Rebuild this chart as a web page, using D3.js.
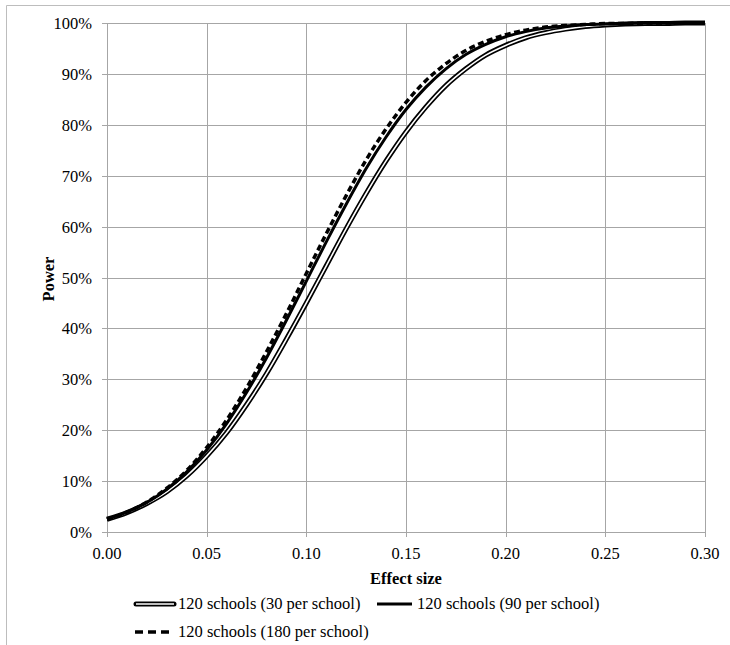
<!DOCTYPE html>
<html><head><meta charset="utf-8">
<script src="https://cdn.jsdelivr.net/npm/d3@7/dist/d3.min.js"></script>
<style>
body{margin:0;background:#fff;}
</style></head>
<body><svg id="c" width="730" height="645"></svg>
<script>
const effectSizes = [0.00,0.01,0.02,0.03,0.04,0.05,0.06,0.07,0.08,0.09,0.10,0.11,0.12,0.13,0.14,0.15,0.16,0.17,0.18,0.19,0.20,0.21,0.22,0.23,0.24,0.25,0.26,0.27,0.28,0.29,0.30];
const power30 = [0.025,0.038,0.056,0.079,0.110,0.149,0.195,0.250,0.311,0.379,0.450,0.523,0.596,0.665,0.729,0.786,0.835,0.877,0.910,0.937,0.956,0.971,0.981,0.988,0.993,0.996,0.998,0.999,0.999,1.000,1.000];
const power90 = [0.025,0.039,0.058,0.084,0.118,0.161,0.213,0.274,0.342,0.416,0.493,0.570,0.644,0.714,0.776,0.830,0.874,0.910,0.938,0.958,0.973,0.983,0.990,0.994,0.997,0.998,0.999,1.000,1.000,1.000,1.000];
const power180 = [0.025,0.039,0.059,0.086,0.121,0.166,0.220,0.283,0.354,0.429,0.508,0.586,0.661,0.731,0.792,0.844,0.887,0.920,0.946,0.964,0.977,0.986,0.992,0.995,0.997,0.999,0.999,1.000,1.000,1.000,1.000];
const seriesNames = ["120 schools (30 per school)","120 schools (90 per school)","120 schools (180 per school)"];
const xTicks = [0,0.05,0.10,0.15,0.20,0.25,0.30];
const yTicks = [0,0.1,0.2,0.3,0.4,0.5,0.6,0.7,0.8,0.9,1.0];

const FONT = "Liberation Serif";
const FS = 16.5;
const svg = d3.select("#c");
// outer frame
svg.append("path").attr("d","M6.5,645 V5.5 H730").attr("fill","none").attr("stroke","#bdbdbd").attr("stroke-width",1);

const x = d3.scaleLinear().domain([0,0.30]).range([107,705]);
const y = d3.scaleLinear().domain([0,1]).range([532,23]);

// grid
const g = svg.append("g");
g.selectAll(".vg").data(xTicks).join("line")
  .attr("x1",d=>Math.round(x(d))+0.5).attr("x2",d=>Math.round(x(d))+0.5)
  .attr("y1",y(1)).attr("y2",y(0)+5).attr("stroke","#a6a6a6").attr("stroke-width",1);
g.selectAll(".hg").data(yTicks).join("line")
  .attr("x1",x(0)-5).attr("x2",x(0.30))
  .attr("y1",d=>Math.round(y(d))+0.5).attr("y2",d=>Math.round(y(d))+0.5)
  .attr("stroke","#a6a6a6").attr("stroke-width",1);

// tick labels
svg.append("g").selectAll("text").data(yTicks).join("text")
  .attr("font-family",FONT)
  .attr("x",92).attr("y",d=>y(d)+6).attr("text-anchor","end")
  .attr("font-size",FS).text(d=>Math.round(d*100)+"%");
svg.append("g").selectAll("text").data(xTicks).join("text")
  .attr("font-family",FONT)
  .attr("x",d=>x(d)).attr("y",559).attr("text-anchor","middle")
  .attr("font-size",FS).text(d=>d.toFixed(2));

// axis titles
svg.append("text").attr("font-family",FONT).attr("x",406).attr("y",584).attr("text-anchor","middle")
  .attr("font-size",FS).attr("font-weight","bold").text("Effect size");
svg.append("text").attr("font-family",FONT).attr("transform","translate(54,279) rotate(-90)").attr("text-anchor","middle")
  .attr("font-size",FS).attr("font-weight","bold").text("Power");

const line = d3.line().x((d,i)=>x(effectSizes[i])).y(d=>y(d)).curve(d3.curveMonotoneX);

// series 1: double line
svg.append("path").attr("d",line(power30)).attr("fill","none").attr("stroke","#000").attr("stroke-width",5);
svg.append("path").attr("d",line(power30)).attr("fill","none").attr("stroke","#fff").attr("stroke-width",1.6);
// series 2: solid
svg.append("path").attr("d",line(power90)).attr("fill","none").attr("stroke","#000").attr("stroke-width",3);
// series 3: dashed
svg.append("path").attr("d",line(power180)).attr("fill","none").attr("stroke","#000").attr("stroke-width",3.5).attr("stroke-dasharray","6,3.5");

// legend
const lg = svg.append("g");
lg.append("line").attr("x1",136).attr("x2",174).attr("y1",604).attr("y2",604).attr("stroke","#000").attr("stroke-width",5).attr("stroke-linecap","round");
lg.append("line").attr("x1",136).attr("x2",174).attr("y1",604).attr("y2",604).attr("stroke","#fff").attr("stroke-width",1.6);
lg.append("text").attr("font-family",FONT).attr("x",178).attr("y",609).attr("font-size",FS).text(seriesNames[0]);
lg.append("line").attr("x1",377).attr("x2",412).attr("y1",604).attr("y2",604).attr("stroke","#000").attr("stroke-width",3);
lg.append("text").attr("font-family",FONT).attr("x",417).attr("y",609).attr("font-size",FS).text(seriesNames[1]);
lg.append("line").attr("x1",135).attr("x2",171).attr("y1",632).attr("y2",632).attr("stroke","#000").attr("stroke-width",3.5).attr("stroke-dasharray","8,5");
lg.append("text").attr("font-family",FONT).attr("x",178).attr("y",637).attr("font-size",FS).text(seriesNames[2]);
</script></body></html>
